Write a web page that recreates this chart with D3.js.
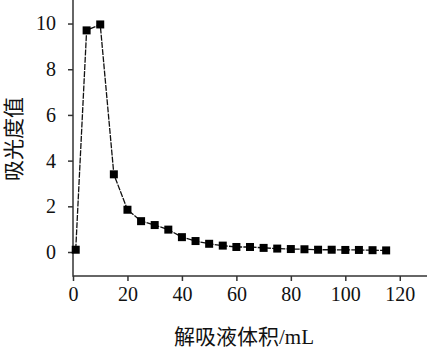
<!DOCTYPE html>
<html><head><meta charset="utf-8">
<script src="https://cdn.jsdelivr.net/npm/d3@7"></script>
<style>body{margin:0;background:#fff}svg{display:block}</style>
</head><body>
<svg id="c" width="427" height="353"></svg>
<script>
const xValues = [1,5,10,15,20,25,30,35,40,45,50,55,60,65,70,75,80,85,90,95,100,105,110,115];
const yValues = [0.1,9.7,9.96,3.4,1.85,1.35,1.18,0.98,0.65,0.48,0.36,0.28,0.22,0.22,0.18,0.15,0.13,0.12,0.1,0.1,0.09,0.09,0.08,0.07];
const xTicks = [0,20,40,60,80,100,120];
const yTicks = [0,2,4,6,8,10];
const xTitle = "解吸液体积/mL";
const yTitle = "吸光度值";

const svg = d3.select("#c");
const x = d3.scaleLinear().domain([0,130]).range([73,427]);
const y = d3.scaleLinear().domain([-1.05,11.03]).range([276,0]);
const font = "'Liberation Serif','Times New Roman',serif";
const axCol = "#333";

const gx = svg.append("g").attr("transform","translate(0,276)")
  .call(d3.axisBottom(x).tickValues(xTicks).tickSize(5).tickSizeOuter(0).tickPadding(6).tickFormat(d3.format("d")));
gx.select(".domain").remove();
const gy = svg.append("g").attr("transform","translate(73,0)")
  .call(d3.axisLeft(y).tickValues(yTicks).tickSize(5).tickSizeOuter(0).tickPadding(12).tickFormat(d3.format("d")));
gy.select(".domain").remove();
[gx,gy].forEach(g=>{
  g.selectAll("line").attr("stroke",axCol).attr("stroke-width",1.5);
  g.selectAll("text").attr("font-family",font).attr("font-size",20).attr("fill","#111");
});
svg.append("line").attr("x1",x(0)).attr("x2",427).attr("y1",276).attr("y2",276).attr("stroke",axCol).attr("stroke-width",1.5);
svg.append("line").attr("x1",73).attr("x2",73).attr("y1",0).attr("y2",276.75).attr("stroke",axCol).attr("stroke-width",1.5);

const pts = xValues.map((d,i)=>[d,yValues[i]]);
svg.append("path").datum(pts)
  .attr("d",d3.line().x(d=>x(d[0])).y(d=>y(d[1])))
  .attr("fill","none").attr("stroke","#111").attr("stroke-width",1.3).attr("stroke-dasharray","6,1.2");
svg.append("g").selectAll("rect").data(pts).join("rect")
  .attr("x",d=>x(d[0])-4).attr("y",d=>y(d[1])-4).attr("width",8).attr("height",8).attr("fill","#000");

svg.append("text").attr("x",244).attr("y",344).attr("text-anchor","middle")
  .attr("font-family",font+",'Noto Sans CJK SC'").attr("font-size",21).attr("fill","#111").text(xTitle);
svg.append("text").attr("transform","translate(21,139) rotate(-90)").attr("text-anchor","middle")
  .attr("font-family",font+",'Noto Sans CJK SC'").attr("font-size",21).attr("fill","#111").text(yTitle);
</script>
</body></html>
